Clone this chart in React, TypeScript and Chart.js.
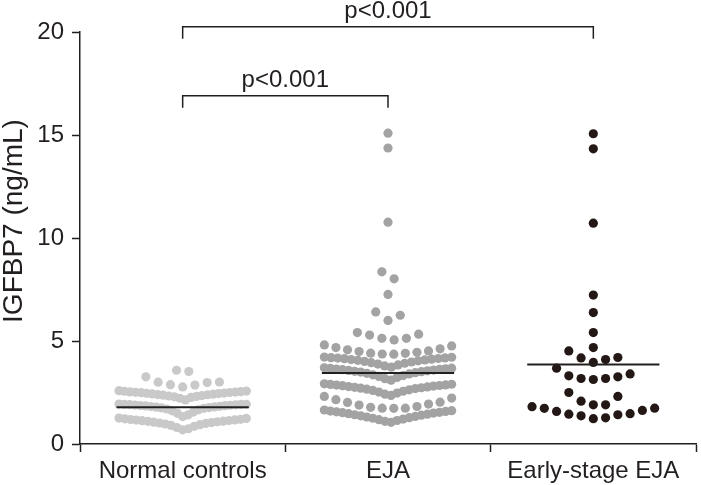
import { useEffect, useRef } from 'react';
import { Chart, registerables } from 'chart.js';

Chart.register(...registerables);

// ---------------- data ----------------
const categories = ['Normal controls', 'EJA', 'Early-stage EJA'];

const normalControls = [
  0.69, 0.74, 0.80, 0.86, 0.90, 0.94, 0.97, 1.00, 1.02, 1.04, 1.06, 1.08, 1.10, 1.11, 1.13, 1.14,
  1.16, 1.17, 1.19, 1.20, 1.22, 1.24, 1.26,
  1.33, 1.41, 1.49, 1.55, 1.61, 1.66, 1.70, 1.73, 1.75, 1.77, 1.79, 1.80, 1.82, 1.83, 1.85, 1.86,
  1.87, 1.88, 1.89, 1.90, 1.91, 1.92, 1.92, 1.93, 1.94,
  2.14, 2.22, 2.26, 2.29, 2.31, 2.33, 2.35, 2.37, 2.39, 2.40, 2.42, 2.43, 2.45, 2.46, 2.47, 2.49,
  2.50, 2.51, 2.52, 2.53, 2.54, 2.56, 2.57, 2.59,
  2.77, 2.86, 2.88, 2.98, 3.00, 3.01, 3.26,
  3.52, 3.58,
];

const eja = [
  1.05, 1.10, 1.14, 1.18, 1.21, 1.25, 1.28, 1.31, 1.34, 1.37, 1.40, 1.42, 1.45, 1.47, 1.50, 1.52,
  1.54, 1.56, 1.58, 1.60, 1.62, 1.65,
  1.73, 1.74, 1.74, 1.78, 1.82, 1.89, 1.94, 2.02, 2.03, 2.15, 2.23, 2.31,
  2.36, 2.42, 2.47, 2.52, 2.56, 2.60, 2.63, 2.66, 2.69, 2.71, 2.73, 2.75, 2.77, 2.79, 2.81, 2.83,
  2.84, 2.86, 2.87, 2.89, 2.90, 2.92,
  3.10, 3.17, 3.23, 3.28, 3.32, 3.36, 3.40, 3.43, 3.46, 3.49, 3.51, 3.53, 3.55, 3.57, 3.59, 3.61,
  3.62, 3.64, 3.65, 3.67, 3.68, 3.70,
  3.73, 3.79, 3.84, 3.88, 3.92, 3.95, 3.98, 4.01, 4.04, 4.06, 4.08, 4.10, 4.12, 4.14, 4.15, 4.17,
  4.18, 4.19, 4.21, 4.22,
  4.36, 4.37, 4.40, 4.41, 4.45, 4.49, 4.52, 4.57, 4.62, 4.68, 4.76, 4.81,
  5.05, 5.13, 5.13, 5.29, 5.33, 5.41,
  6.00, 6.25, 6.41,
  7.26,
  8.02, 8.36,
  10.77, 14.37, 15.09,
];

const earlyStageEja = [
  1.23, 1.27, 1.37, 1.42, 1.45, 1.47, 1.58, 1.63, 1.73, 1.74, 1.81,
  1.90, 1.90, 2.08, 2.31, 2.50,
  3.13, 3.18, 3.18, 3.26, 3.31, 3.40, 3.68,
  3.96, 4.10, 4.18, 4.20, 4.52,
  4.68, 5.41, 6.38, 7.23, 10.72, 14.33, 15.06,
];

const groupValues = [normalControls, eja, earlyStageEja];
const meanValues = [1.79, 3.45, 3.86];

const yTicks = [0, 5, 10, 15, 20];
const yTitle = 'IGFBP7 (ng/mL)';

const comparisons = [
  { from: 0, to: 1, label: 'p<0.001', level: 16.9 },
  { from: 0, to: 2, label: 'p<0.001', level: 20.25 },
];

// ---------------- style ----------------
const FONT = '"Liberation Sans", Arial, Helvetica, sans-serif';
const INK = '#231f20';
const pointColors = ['#c9c9c9', '#a3a3a3', '#231816'];

// swarm layout constants (x in category units; 1 unit = one category width)
const ROW_SPAN = 0.62; // value range grouped in one row
const SLOT = 0.0597; // preferred spacing between dots in a row
const HALF = 0.31; // max half width of a row
const MEAN_HALF = 0.322; // half width of the mean line

function swarm(values: number[], center: number) {
  const sorted = [...values].sort((a, b) => a - b);
  const rows: number[][] = [];
  let cur: number[] = [];
  for (const v of sorted) {
    if (cur.length && v - cur[0] >= ROW_SPAN) {
      rows.push(cur);
      cur = [];
    }
    cur.push(v);
  }
  if (cur.length) rows.push(cur);
  const pts: { x: number; y: number }[] = [];
  for (const row of rows) {
    const n = row.length;
    const step = n > 1 ? Math.min(SLOT, (2 * HALF) / (n - 1)) : 0;
    const slots = Array.from({ length: n }, (_, k) => k - (n - 1) / 2).sort(
      (a, b) => Math.abs(a) - Math.abs(b) || b - a
    );
    row.forEach((v, i) => pts.push({ x: center + slots[i] * step, y: v }));
  }
  return pts;
}

const bracketPlugin = {
  id: 'brackets',
  afterDatasetsDraw(chart: any) {
    const { ctx, scales } = chart;
    const x = scales.x;
    const y = scales.y;
    ctx.save();
    ctx.strokeStyle = INK;
    ctx.fillStyle = INK;
    ctx.lineWidth = 1.5;
    ctx.font = `24px ${FONT}`;
    ctx.textAlign = 'center';
    ctx.textBaseline = 'alphabetic';
    for (const c of comparisons) {
      const x1 = x.getPixelForValue(c.from);
      const x2 = x.getPixelForValue(c.to);
      const yy = y.getPixelForValue(c.level);
      ctx.beginPath();
      ctx.moveTo(x1, yy + 12);
      ctx.lineTo(x1, yy);
      ctx.lineTo(x2, yy);
      ctx.lineTo(x2, yy + 12);
      ctx.stroke();
      ctx.fillText(c.label, (x1 + x2) / 2, yy - 9);
    }
    ctx.restore();
  },
};

// y-axis title, drawn a little above the axis middle as in the reference
const yTitlePlugin = {
  id: 'yTitle',
  afterDraw(chart: any) {
    const { ctx, chartArea } = chart;
    ctx.save();
    ctx.fillStyle = INK;
    ctx.font = `28px ${FONT}`;
    ctx.textAlign = 'center';
    ctx.textBaseline = 'middle';
    ctx.translate(14, (chartArea.top + chartArea.bottom) / 2 - 17);
    ctx.rotate(-Math.PI / 2);
    ctx.fillText(yTitle, 0, 0);
    ctx.restore();
  },
};

export default function App() {
  const ref = useRef<HTMLCanvasElement>(null);

  useEffect(() => {
    if (!ref.current) return;
    Chart.defaults.font.family = FONT;

    const pointSets = groupValues.map((vals, i) => ({
      type: 'scatter' as const,
      label: categories[i],
      data: swarm(vals, i),
      backgroundColor: pointColors[i],
      borderWidth: 0,
      pointRadius: 4.6,
      pointHoverRadius: 4.6,
      order: 2,
    }));

    const meanSets = meanValues.map((m, i) => ({
      type: 'line' as const,
      label: categories[i] + ' mean',
      data: [
        { x: i - MEAN_HALF, y: m },
        { x: i + MEAN_HALF, y: m },
      ],
      borderColor: INK,
      borderWidth: 2,
      pointRadius: 0,
      fill: false,
      order: 1,
    }));

    const chart = new Chart(ref.current, {
      type: 'scatter',
      data: { datasets: [...pointSets, ...meanSets] as any },
      options: {
        responsive: false,
        maintainAspectRatio: false,
        animation: false,
        events: [],
        layout: { padding: { top: 32, right: 1, left: 0, bottom: 0 } },
        plugins: { legend: { display: false }, tooltip: { enabled: false } },
        scales: {
          x: {
            type: 'linear',
            min: -0.5,
            max: 2.5,
            afterBuildTicks: (s: any) => {
              s.ticks = [-0.5, 0, 0.5, 1, 1.5, 2, 2.5].map((v) => ({ value: v }));
            },
            afterFit: (s: any) => {
              s.height = 41;
            },
            ticks: {
              autoSkip: false,
              maxRotation: 0,
              minRotation: 0,
              padding: 5,
              color: INK,
              font: { size: 24, family: FONT },
              callback: (v: any) => (Number.isInteger(v) ? categories[v] : ''),
            },
            grid: {
              drawOnChartArea: false,
              tickLength: 8,
              tickWidth: 1.5,
              tickColor: (ctx: any) =>
                ctx.tick && Number.isInteger(ctx.tick.value) ? 'rgba(0,0,0,0)' : INK,
            },
            border: { color: INK, width: 1.5 },
          },
          y: {
            type: 'linear',
            min: 0,
            max: 20,
            afterBuildTicks: (s: any) => {
              s.ticks = yTicks.map((v) => ({ value: v }));
            },
            afterFit: (s: any) => {
              s.width = 80;
            },
            ticks: {
              padding: 8,
              color: INK,
              font: { size: 24, family: FONT },
            },
            grid: {
              drawOnChartArea: false,
              tickLength: 8,
              tickWidth: 1.5,
              tickColor: INK,
            },
            border: { color: INK, width: 1.5 },
            title: { display: false, text: yTitle },
          },
        },
      },
      plugins: [bracketPlugin, yTitlePlugin],
    });
    return () => chart.destroy();
  }, []);

  return (
    <div
      style={{
        position: 'fixed',
        left: 0,
        top: 0,
        width: 701,
        height: 485,
        background: '#ffffff',
      }}
    >
      <canvas ref={ref} width={701} height={485} style={{ display: 'block' }} />
    </div>
  );
}
